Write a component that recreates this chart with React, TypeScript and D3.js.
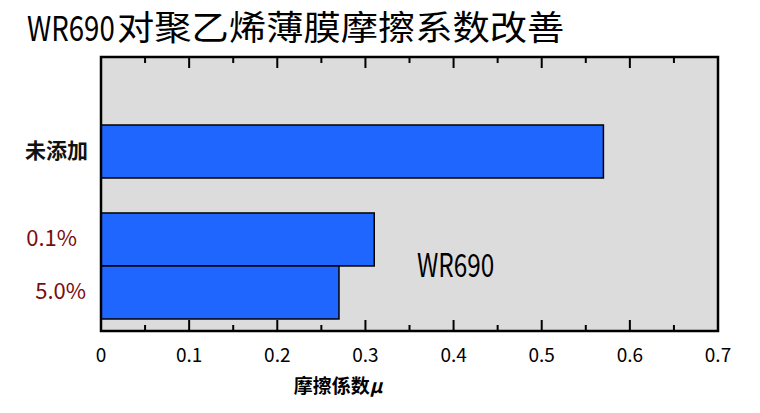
import React, { useEffect, useRef } from 'react';
import * as d3 from 'd3';

// Friction coefficient data
const categories = ['未添加', '0.1%', '5.0%'];
const frictionValues = [0.57, 0.31, 0.27];
const labelColors = ['#111111', '#7a0c0c', '#7a0c0c'];
const xTicks = [0, 0.1, 0.2, 0.3, 0.4, 0.5, 0.6, 0.7];
const minorTicks = [0.05, 0.15, 0.25, 0.35, 0.45, 0.55, 0.65];

const W = 760;
const H = 413;
const PLOT = { left: 101, right: 718, top: 57, bottom: 331 };
const FONT = '"Noto Sans CJK SC", "Noto Sans CJK JP", sans-serif';

export default function App() {
  const svgRef = useRef<SVGSVGElement>(null);

  useEffect(() => {
    if (!svgRef.current) return;
    const svg = d3.select(svgRef.current);
    svg.selectAll('*').remove();

    svg.append('rect').attr('width', W).attr('height', H).attr('fill', '#ffffff');

    // Title: condensed latin part + slightly widened CJK part
    svg.append('text')
      .attr('transform', 'translate(27,40.5) scale(0.8,1)')
      .attr('font-family', FONT).attr('font-size', 34.5)
      .attr('fill', '#000').text('WR690');
    svg.append('text')
      .attr('transform', 'translate(117,40) scale(1.097,1)')
      .attr('font-family', FONT).attr('font-size', 34)
      .attr('fill', '#000').text('对聚乙烯薄膜摩擦系数改善');

    const x = d3.scaleLinear().domain([0, 0.7]).range([PLOT.left, PLOT.right]);

    // bar slots: one bar height per unit, with a gap after the first (untreated) bar
    const barUnit = d3.scaleLinear().domain([0, 1]).range([125, 178]);
    const groupGap = 0.66;
    const slot = (i: number) => i + (i > 0 ? groupGap : 0);
    const barH = barUnit(1) - barUnit(0);

    // Plot background
    svg.append('rect')
      .attr('x', PLOT.left).attr('y', PLOT.top)
      .attr('width', PLOT.right - PLOT.left).attr('height', PLOT.bottom - PLOT.top)
      .attr('fill', '#dcdcdc');

    // Bars
    svg.append('g').selectAll('rect')
      .data(frictionValues)
      .join('rect')
      .attr('x', x(0))
      .attr('y', (_, i) => barUnit(slot(i)))
      .attr('width', d => x(d) - x(0))
      .attr('height', barH)
      .attr('fill', '#1f66ff')
      .attr('stroke', '#000')
      .attr('stroke-width', 1.5);

    // Ticks top & bottom (inward)
    const tg = svg.append('g').attr('stroke', '#000').attr('stroke-width', 2);
    const drawTicks = (vals: number[], len: number) => vals.forEach(t => {
      tg.append('line').attr('x1', x(t)).attr('x2', x(t))
        .attr('y1', PLOT.bottom).attr('y2', PLOT.bottom - len);
      tg.append('line').attr('x1', x(t)).attr('x2', x(t))
        .attr('y1', PLOT.top).attr('y2', PLOT.top + len);
    });
    drawTicks(xTicks, 11);
    drawTicks(minorTicks, 6);

    // Plot frame
    svg.append('rect')
      .attr('x', PLOT.left).attr('y', PLOT.top)
      .attr('width', PLOT.right - PLOT.left).attr('height', PLOT.bottom - PLOT.top)
      .attr('fill', 'none').attr('stroke', '#000').attr('stroke-width', 2.5);

    // X tick labels
    svg.append('g').selectAll('text')
      .data(xTicks)
      .join('text')
      .attr('x', d => x(d))
      .attr('y', 362)
      .attr('text-anchor', 'middle')
      .attr('font-family', FONT).attr('font-size', 19)
      .attr('fill', '#000')
      .text(d => (d === 0 ? '0' : d.toFixed(1)));

    // X axis title
    const xt = svg.append('text')
      .attr('x', 338).attr('y', 393)
      .attr('text-anchor', 'middle')
      .attr('font-family', FONT).attr('font-size', 19).attr('font-weight', 'bold')
      .attr('fill', '#000');
    xt.append('tspan').text('摩擦係数');
    xt.append('tspan').attr('font-style', 'italic').text('μ');

    // Category labels
    const labelX = [88, 77, 86];
    svg.append('g').selectAll('text')
      .data(categories)
      .join('text')
      .attr('x', (_, i) => labelX[i])
      .attr('y', (_, i) => barUnit(slot(i)) + barH / 2 + 1)
      .attr('dominant-baseline', 'middle')
      .attr('text-anchor', 'end')
      .attr('font-family', FONT)
      .attr('font-size', (_, i) => (i === 0 ? 21 : 22))
      .attr('font-weight', (_, i) => (i === 0 ? 'bold' : 'normal'))
      .attr('fill', (_, i) => labelColors[i])
      .text(d => d);

    // Series annotation (condensed)
    svg.append('text')
      .attr('transform', 'translate(417,277) scale(0.76,1)')
      .attr('font-family', FONT).attr('font-size', 32)
      .attr('fill', '#000').text('WR690');
  }, []);

  return (
    <svg
      ref={svgRef}
      width={W}
      height={H}
      style={{ position: 'absolute', left: 0, top: 0, display: 'block' }}
    />
  );
}
